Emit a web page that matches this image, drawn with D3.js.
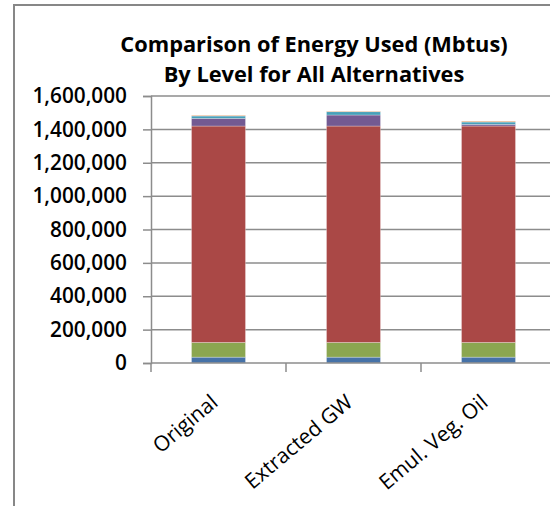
<!DOCTYPE html>
<html>
<head>
<meta charset="utf-8">
<script src="https://cdn.jsdelivr.net/npm/d3@7"></script>
<style>
  html, body { margin: 0; padding: 0; background: #fff; }
  svg { display: block; }
</style>
</head>
<body>
<svg id="chart" width="550" height="506"></svg>
<script>
// ---- Data ----
const categories = ["Original", "Extracted GW", "Emul. Veg. Oil"];
const seriesNames = ["Level 1", "Level 2", "Level 3", "Level 4", "Level 5", "Level 6"];
const level1 = [35000, 35000, 35000];
const level2 = [88000, 88000, 88000];
const level3 = [1297000, 1297000, 1297000];
const level4 = [46000, 66000, 10000];
const level5 = [14000, 20000, 14000];
const level6 = [5000, 4000, 6000];
const yTicks = [0, 200000, 400000, 600000, 800000, 1000000, 1200000, 1400000, 1600000];
const titleLines = ["Comparison of Energy Used (Mbtus)", "By Level for All Alternatives"];
const colors = ["#4672A8", "#8BA650", "#AA4846", "#735A92", "#47A0B9", "#E7AE84"];

// ---- Build table ----
const seriesValues = [level1, level2, level3, level4, level5, level6];
const table = categories.map((c, i) => {
  const row = { category: c };
  seriesNames.forEach((s, j) => row[s] = seriesValues[j][i]);
  return row;
});
const stacked = d3.stack().keys(seriesNames)(table);

const svg = d3.select("#chart");

// outer chart frame
svg.append("rect")
  .attr("x", 14).attr("y", 5).attr("width", 600).attr("height", 600)
  .attr("fill", "none").attr("stroke", "#878787").attr("stroke-width", 2);

const plot = { left: 151, right: 556, top: 96, bottom: 363 };

const x = d3.scaleBand().domain(categories)
  .range([plot.left, plot.right]).paddingInner(0.6).paddingOuter(0.3);
const y = d3.scaleLinear().domain([0, 1600000]).range([plot.bottom, plot.top]);

// gridlines
svg.append("g").selectAll("line").data(yTicks.filter(d => d > 0)).join("line")
  .attr("x1", plot.left).attr("x2", 560)
  .attr("y1", d => y(d)).attr("y2", d => y(d))
  .attr("stroke", "#8C8C8C").attr("stroke-width", 1.5);

// bars
svg.append("g").selectAll("g").data(stacked).join("g")
  .attr("fill", (d, i) => colors[i])
  .selectAll("rect").data(d => d).join("rect")
  .attr("x", d => x(d.data.category))
  .attr("width", x.bandwidth())
  .attr("y", d => y(d[1]))
  .attr("height", d => y(d[0]) - y(d[1]))
  .attr("stroke", "rgba(255,255,255,0.35)").attr("stroke-width", 0.8);

// y axis
const yAxis = d3.axisLeft(y).tickValues(yTicks).tickSize(8).tickPadding(16)
  .tickFormat(d3.format(","));
const gy = svg.append("g").attr("transform", `translate(${plot.left},0)`).call(yAxis);
gy.select(".domain").attr("stroke", "#8C8C8C").attr("stroke-width", 1.5);
gy.selectAll(".tick line").attr("stroke", "#8C8C8C").attr("stroke-width", 1.5);
gy.selectAll(".tick text")
  .attr("font-family", "'Open Sans', sans-serif").attr("font-size", 20.8)
  .attr("font-weight", 600).attr("fill", "#000");

// x axis line
svg.append("line")
  .attr("x1", plot.left).attr("x2", 560)
  .attr("y1", plot.bottom).attr("y2", plot.bottom)
  .attr("stroke", "#8C8C8C").attr("stroke-width", 1.5);
// x ticks at band boundaries
const step = x.step();
const boundaries = categories.map((c, i) => x(c) - step * x.paddingOuter()).concat([x(categories[2]) + x.bandwidth() + step * x.paddingOuter()]);
svg.append("g").selectAll("line").data(boundaries).join("line")
  .attr("x1", d => d).attr("x2", d => d)
  .attr("y1", plot.bottom).attr("y2", plot.bottom + 9)
  .attr("stroke", "#8C8C8C").attr("stroke-width", 1.5);

// category labels
svg.append("g").selectAll("text").data(categories).join("text")
  .attr("transform", d => `translate(${x(d) + x.bandwidth() / 2 - 9},${plot.bottom + 30}) rotate(-40)`)
  .attr("text-anchor", "end").attr("dy", "0.72em")
  .attr("font-family", "'Open Sans', sans-serif").attr("font-size", 21)
  .attr("fill", "#000")
  .text(d => d);

// title
svg.append("g").selectAll("text").data(titleLines).join("text")
  .attr("x", 314).attr("y", (d, i) => 52 + i * 30)
  .attr("text-anchor", "middle")
  .attr("font-family", "'Open Sans', sans-serif").attr("font-size", 21.8)
  .attr("font-weight", 700).attr("fill", "#000")
  .text(d => d);
</script>
</body>
</html>
